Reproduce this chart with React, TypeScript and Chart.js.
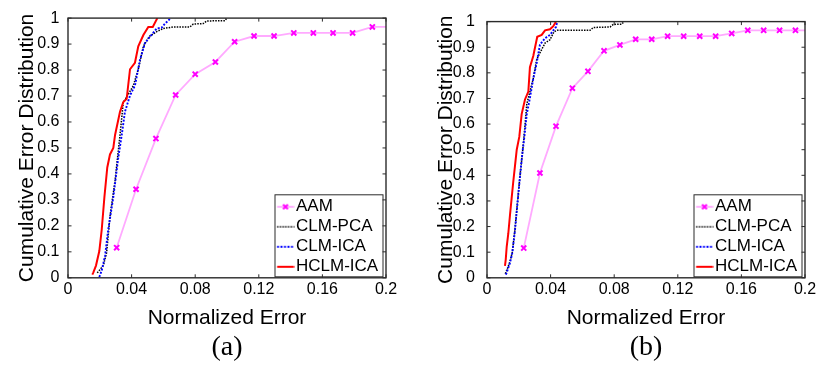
import React, { useEffect, useRef } from 'react';
import { Chart, registerables } from 'chart.js';

Chart.register(...registerables);

// ---------- data ----------
const xTickValues = [0, 0.04, 0.08, 0.12, 0.16, 0.2];
const xTickLabels = ['0', '0.04', '0.08', '0.12', '0.16', '0.2'];
const yTickValues = [0, 0.1, 0.2, 0.3, 0.4, 0.5, 0.6, 0.7, 0.8, 0.9, 1];
const yTickLabels = ['0', '0.1', '0.2', '0.3', '0.4', '0.5', '0.6', '0.7', '0.8', '0.9', '1'];
const seriesNames = ['AAM', 'CLM-PCA', 'CLM-ICA', 'HCLM-ICA'];
const panelLabels = ['(a)', '(b)'];
const xTitle = 'Normalized Error';
const yTitle = 'Cumulative Error Distribution';

// panel (a)
const aamAX = [0.0306, 0.0428, 0.0553, 0.0677, 0.08, 0.0927, 0.1048, 0.117, 0.1296, 0.142, 0.1543, 0.1667, 0.179, 0.1914, 0.2037];
const aamAY = [0.116, 0.341, 0.536, 0.704, 0.784, 0.831, 0.909, 0.931, 0.931, 0.943, 0.943, 0.943, 0.943, 0.966, 0.966];
const pcaAX = [0.0184, 0.0222, 0.0243, 0.0264, 0.0296, 0.0327, 0.0348, 0.0369, 0.0411, 0.0442, 0.0474, 0.0511, 0.0558, 0.06, 0.0662, 0.0767, 0.0788, 0.0851, 0.0872, 0.0987, 0.0998];
const pcaAY = [0.019, 0.047, 0.097, 0.236, 0.374, 0.55, 0.677, 0.696, 0.74, 0.803, 0.891, 0.929, 0.948, 0.96, 0.966, 0.966, 0.977, 0.979, 0.989, 0.99, 1.0];
const icaAX = [0.0197, 0.0212, 0.0233, 0.0253, 0.0285, 0.0316, 0.0338, 0.0358, 0.039, 0.0421, 0.0453, 0.0484, 0.0516, 0.0558, 0.0589, 0.061, 0.063, 0.0646];
const icaAY = [0.003, 0.028, 0.084, 0.185, 0.311, 0.462, 0.55, 0.639, 0.702, 0.74, 0.84, 0.904, 0.929, 0.96, 0.963, 0.979, 0.99, 1.0];
const hclmAX = [0.0153, 0.0159, 0.0176, 0.0197, 0.0212, 0.0229, 0.0247, 0.0264, 0.0285, 0.0296, 0.0327, 0.0348, 0.0369, 0.039, 0.0421, 0.0442, 0.0474, 0.0505, 0.0533, 0.0562];
const hclmAY = [0.012, 0.02, 0.047, 0.103, 0.185, 0.311, 0.425, 0.475, 0.5, 0.55, 0.639, 0.677, 0.689, 0.803, 0.828, 0.891, 0.935, 0.966, 0.966, 1.0];

// panel (b)
const aamBX = [0.0231, 0.0333, 0.0434, 0.0537, 0.0635, 0.0736, 0.0836, 0.0935, 0.1036, 0.1136, 0.1237, 0.1338, 0.1438, 0.1539, 0.164, 0.174, 0.184, 0.194, 0.204];
const aamBY = [0.116, 0.409, 0.592, 0.74, 0.806, 0.886, 0.909, 0.931, 0.931, 0.943, 0.943, 0.943, 0.943, 0.954, 0.966, 0.966, 0.966, 0.966, 0.966];
const pcaBX = [0.0115, 0.0128, 0.0145, 0.0159, 0.0176, 0.0191, 0.0208, 0.0225, 0.0237, 0.025, 0.027, 0.0291, 0.0313, 0.0333, 0.0365, 0.0396, 0.0421, 0.0442, 0.0648, 0.0669, 0.0774, 0.0794, 0.0847, 0.0862];
const pcaBY = [0.016, 0.035, 0.065, 0.1, 0.19, 0.29, 0.4, 0.5, 0.58, 0.677, 0.727, 0.778, 0.853, 0.878, 0.916, 0.929, 0.96, 0.966, 0.966, 0.977, 0.979, 0.989, 0.99, 1.0];
const icaBX = [0.0119, 0.0128, 0.0145, 0.0159, 0.0176, 0.0191, 0.0208, 0.0225, 0.0235, 0.025, 0.027, 0.0291, 0.0313, 0.0333, 0.0365, 0.0396, 0.0417, 0.0434, 0.0442];
const icaBY = [0.0125, 0.028, 0.059, 0.097, 0.185, 0.286, 0.4, 0.5, 0.55, 0.639, 0.702, 0.778, 0.84, 0.91, 0.935, 0.948, 0.966, 0.979, 1.0];
const hclmBX = [0.0113, 0.0118, 0.0124, 0.0134, 0.0145, 0.0155, 0.0165, 0.0176, 0.0187, 0.0203, 0.0218, 0.0239, 0.026, 0.027, 0.0291, 0.0316, 0.0344, 0.0365, 0.0396, 0.0417, 0.0434];
const hclmBY = [0.047, 0.072, 0.122, 0.173, 0.248, 0.311, 0.374, 0.437, 0.5, 0.55, 0.639, 0.696, 0.727, 0.822, 0.866, 0.941, 0.948, 0.966, 0.97, 0.982, 1.0];

// ---------- styles ----------
const SANS = 'Liberation Sans, Arial, Helvetica, sans-serif';
const SERIF = 'Liberation Serif, Times New Roman, serif';
const seriesStyles = [
  { color: '#ffaaff', width: 1.8, dash: [] as number[], marker: '#ff00ff' },
  { color: '#000000', width: 1.5, dash: [1.5, 1.2], marker: '' },
  { color: '#0000ff', width: 1.9, dash: [2, 1.5], marker: '' },
  { color: '#ff0000', width: 2, dash: [] as number[], marker: '' },
];
const FRAME = '#2b2b2b';

function zip(xs: number[], ys: number[]) {
  return xs.map((x, i) => ({ x, y: ys[i] }));
}

function makeIcon(i: number): HTMLCanvasElement {
  const s = seriesStyles[i];
  const c = document.createElement('canvas');
  c.width = 22;
  c.height = 10;
  const ctx = c.getContext('2d')!;
  ctx.strokeStyle = s.color;
  ctx.lineWidth = s.width;
  ctx.setLineDash(s.dash);
  ctx.beginPath();
  ctx.moveTo(4.5, 5);
  ctx.lineTo(21.5, 5);
  ctx.stroke();
  if (s.marker) {
    ctx.setLineDash([]);
    ctx.strokeStyle = s.marker;
    ctx.lineWidth = 2;
    ctx.beginPath();
    ctx.moveTo(10.6, 2.6);
    ctx.lineTo(15.4, 7.4);
    ctx.moveTo(15.4, 2.6);
    ctx.lineTo(10.6, 7.4);
    ctx.stroke();
  }
  return c;
}

function legendBorder(ca: { right: number; bottom: number }) {
  const right = ca.right - 3;
  return { left: right - 108, right, top: ca.bottom - 83, bottom: ca.bottom - 1 };
}

const frameTicksPlugin = {
  id: 'frameTicks',
  afterLayout(chart: any) {
    const lg = chart.legend;
    if (!lg) return;
    const ca = chart.chartArea;
    const b = legendBorder(ca);
    lg.left = b.left + 1.5;
    lg.right = b.right;
    lg.top = b.top;
    lg.bottom = ca.bottom + 0.5;
    lg.width = lg.right - lg.left;
    lg.height = lg.bottom - lg.top;
  },
  afterDraw(chart: any) {
    const ctx = chart.ctx;
    const ca = chart.chartArea;
    const xs = chart.scales.x;
    const ys = chart.scales.y;
    ctx.save();
    // legend border
    const b = legendBorder(ca);
    ctx.strokeStyle = FRAME;
    ctx.lineWidth = 1;
    ctx.strokeRect(b.left, b.top, b.right - b.left, b.bottom - b.top);
    // frame
    ctx.lineWidth = 1.4;
    ctx.strokeRect(ca.left, ca.top, ca.right - ca.left, ca.bottom - ca.top);
    // inward ticks
    const tl = 3.5;
    ctx.lineWidth = 1;
    ctx.beginPath();
    xs.ticks.forEach((t: any) => {
      const p = xs.getPixelForValue(t.value);
      ctx.moveTo(p, ca.bottom);
      ctx.lineTo(p, ca.bottom - tl);
      ctx.moveTo(p, ca.top);
      ctx.lineTo(p, ca.top + tl);
    });
    ys.ticks.forEach((t: any) => {
      const p = ys.getPixelForValue(t.value);
      ctx.moveTo(ca.left, p);
      ctx.lineTo(ca.left + tl, p);
      ctx.moveTo(ca.right, p);
      ctx.lineTo(ca.right - tl, p);
    });
    ctx.stroke();
    ctx.restore();
  },
};

type PanelDef = {
  series: { x: number[]; y: number[] }[];
  label: string;
  axisWidth: number;
  padRight: number;
  yTickPad: number;
  yTitlePad: number;
};

function makeConfig(p: PanelDef, icons: HTMLCanvasElement[]): any {
  const datasets = p.series.map((s, i) => {
    const st = seriesStyles[i];
    return {
      label: seriesNames[i],
      data: zip(s.x, s.y),
      borderColor: st.color,
      backgroundColor: st.color,
      borderWidth: st.width,
      borderDash: st.dash,
      tension: 0,
      fill: false,
      pointRadius: st.marker ? 3.6 : 0,
      pointHoverRadius: st.marker ? 3.6 : 0,
      pointStyle: 'crossRot',
      pointBorderColor: st.marker || st.color,
      pointBorderWidth: 2,
      order: 4 - i,
      clip: i === 0 ? 0 : undefined,
    };
  });
  return {
    type: 'line',
    data: { datasets },
    options: {
      animation: false,
      responsive: false,
      events: [],
      layout: { padding: { top: 14.7, right: p.padRight, bottom: 0, left: 0 } },
      scales: {
        x: {
          type: 'linear',
          min: 0,
          max: 0.2,
          grid: { display: false, drawTicks: false },
          border: { display: false },
          afterBuildTicks: (s: any) => {
            s.ticks = xTickValues.map((v) => ({ value: v }));
          },
          afterFit: (s: any) => {
            s.height = 53.1;
          },
          ticks: {
            autoSkip: false,
            maxRotation: 0,
            padding: 2.6,
            color: '#000',
            font: { family: SANS, size: 16 },
            callback: (_v: any, i: number) => xTickLabels[i],
          },
          title: {
            display: true,
            text: xTitle,
            color: '#000',
            font: { family: SANS, size: 21 },
            padding: { top: 0, bottom: 0 },
          },
        },
        y: {
          type: 'linear',
          min: 0,
          max: 1,
          grid: { display: false, drawTicks: false },
          border: { display: false },
          afterBuildTicks: (s: any) => {
            s.ticks = yTickValues.map((v) => ({ value: v }));
          },
          afterFit: (s: any) => {
            s.width = p.axisWidth;
          },
          ticks: {
            autoSkip: false,
            padding: p.yTickPad,
            color: '#000',
            font: { family: SANS, size: 16 },
            callback: (_v: any, i: number) => yTickLabels[i],
          },
          title: {
            display: true,
            text: yTitle,
            color: '#000',
            font: { family: SANS, size: 21 },
            padding: { top: p.yTitlePad, bottom: 0 },
          },
        },
      },
      plugins: {
        tooltip: { enabled: false },
        title: {
          display: true,
          text: p.label,
          position: 'bottom',
          fullSize: false,
          color: '#000',
          font: { family: SERIF, size: 28, weight: 'normal' },
          padding: { top: 0, bottom: 0.5 },
        },
        legend: {
          display: true,
          position: 'chartArea',
          align: 'end',
          labels: {
            usePointStyle: true,
            boxWidth: 8,
            padding: 3,
            color: '#000',
            font: { family: SANS, size: 17 },
            generateLabels: () =>
              seriesNames.map((name, i) => ({
                text: name,
                fillStyle: 'rgba(0,0,0,0)',
                strokeStyle: 'rgba(0,0,0,0)',
                lineWidth: 1,
                pointStyle: icons[i],
                hidden: false,
                datasetIndex: i,
                fontColor: '#000',
              })),
          },
        },
      },
    },
    plugins: [frameTicksPlugin],
  };
}

export default function App() {
  const leftRef = useRef<HTMLCanvasElement | null>(null);
  const rightRef = useRef<HTMLCanvasElement | null>(null);

  useEffect(() => {
    const icons = seriesNames.map((_, i) => makeIcon(i));
    const panelA: PanelDef = {
      series: [
        { x: aamAX, y: aamAY },
        { x: pcaAX, y: pcaAY },
        { x: icaAX, y: icaAY },
        { x: hclmAX, y: hclmAY },
      ],
      label: panelLabels[0],
      axisWidth: 68,
      padRight: 22,
      yTickPad: 8.5,
      yTitlePad: 15,
    };
    const panelB: PanelDef = {
      series: [
        { x: aamBX, y: aamBY },
        { x: pcaBX, y: pcaBY },
        { x: icaBX, y: icaBY },
        { x: hclmBX, y: hclmBY },
      ],
      label: panelLabels[1],
      axisWidth: 79,
      padRight: 33,
      yTickPad: 12,
      yTitlePad: 26,
    };
    const charts: Chart[] = [];
    if (leftRef.current) charts.push(new Chart(leftRef.current, makeConfig(panelA, icons)));
    if (rightRef.current) charts.push(new Chart(rightRef.current, makeConfig(panelB, icons)));
    return () => {
      charts.forEach((c) => c.destroy());
    };
  }, []);

  return (
    <div
      style={{
        position: 'absolute',
        left: 0,
        top: 0,
        width: 816,
        height: 365,
        overflow: 'hidden',
        background: '#ffffff',
      }}
    >
      <canvas
        ref={leftRef}
        width={408}
        height={365}
        style={{ position: 'absolute', left: 0, top: 0, width: 408, height: 365 }}
      />
      <canvas
        ref={rightRef}
        width={430}
        height={365}
        style={{ position: 'absolute', left: 408, top: 0, width: 430, height: 365 }}
      />
    </div>
  );
}
